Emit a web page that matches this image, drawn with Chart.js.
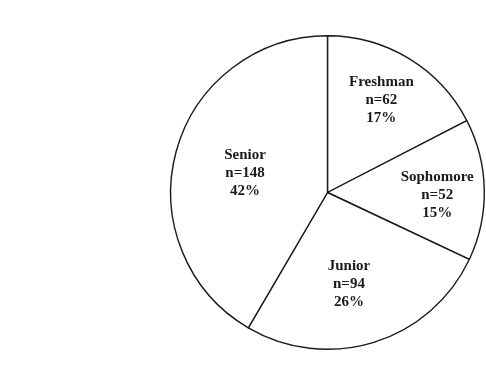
<!DOCTYPE html>
<html>
<head>
<meta charset="utf-8">
<script src="https://cdn.jsdelivr.net/npm/chart.js@4/dist/chart.umd.min.js"></script>
<style>
  html, body { margin: 0; padding: 0; background: #ffffff; }
  #wrap { position: relative; width: 486px; height: 375px; }
</style>
</head>
<body>
<div id="wrap"><canvas id="c" width="486" height="375"></canvas></div>
<script>
// Data
const categories = ["Freshman", "Sophomore", "Junior", "Senior"];
const counts = [62, 52, 94, 148];
const percentLabels = ["17%", "15%", "26%", "42%"];

// Label placement (fraction of radius, angle nudge in degrees) — layout only
const labelRadius = [0.68, 0.70, 0.60, 0.54];
const labelAngleNudge = [-1, 2.5, 4, -2];

const labelPlugin = {
  id: 'sliceLabels',
  afterDatasetsDraw(chart) {
    const ctx = chart.ctx;
    const meta = chart.getDatasetMeta(0);
    ctx.save();
    ctx.font = 'bold 15px "Liberation Serif", "Times New Roman", serif';
    ctx.fillStyle = '#1a1a1a';
    ctx.textAlign = 'center';
    ctx.textBaseline = 'middle';
    meta.data.forEach((arc, i) => {
      const p = arc.getProps(['x', 'y', 'startAngle', 'endAngle', 'outerRadius'], true);
      const mid = (p.startAngle + p.endAngle) / 2 + labelAngleNudge[i] * Math.PI / 180;
      const r = p.outerRadius * labelRadius[i];
      const cx = p.x + Math.cos(mid) * r;
      const cy = p.y + Math.sin(mid) * r;
      const lines = [categories[i], 'n=' + counts[i], percentLabels[i]];
      const lh = 18;
      lines.forEach((t, k) => {
        ctx.fillText(t, cx, cy + (k - 1) * lh);
      });
    });
    ctx.restore();
  }
};

new Chart(document.getElementById('c'), {
  type: 'pie',
  data: {
    labels: categories,
    datasets: [{
      data: counts,
      backgroundColor: '#ffffff',
      borderColor: '#1a1a1a',
      borderWidth: 1.4,
      borderAlign: 'center'
    }]
  },
  options: {
    responsive: false,
    animation: false,
    rotation: 0,
    layout: { padding: { left: 170, right: 1, top: 35, bottom: 25 } },
    plugins: {
      legend: { display: false },
      tooltip: { enabled: false },
      title: { display: false }
    }
  },
  plugins: [labelPlugin]
});
</script>
</body>
</html>
